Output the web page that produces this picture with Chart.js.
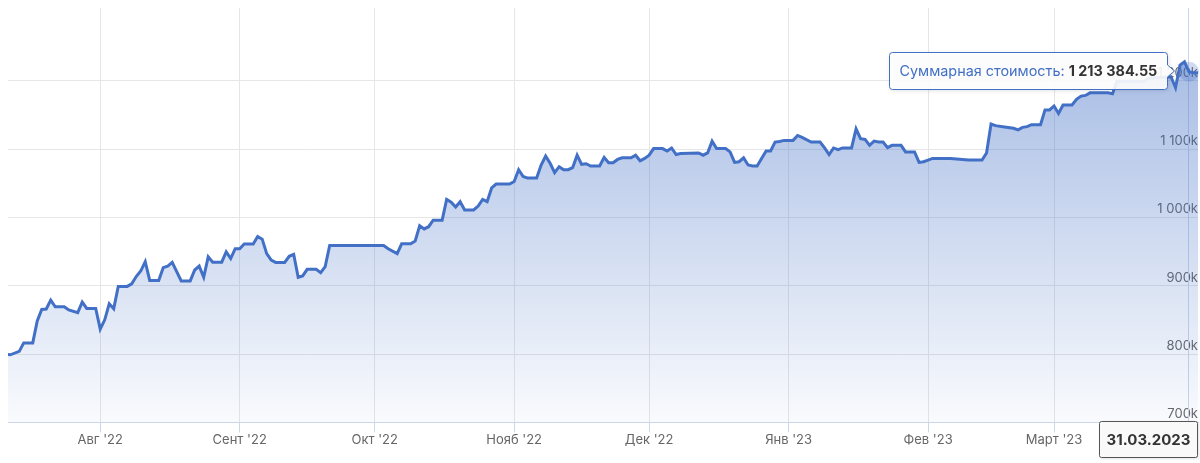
<!DOCTYPE html>
<html>
<head>
<meta charset="utf-8">
<script src="https://cdn.jsdelivr.net/npm/chart.js@4.4.1/dist/chart.umd.min.js"></script>
<style>
  html, body { margin: 0; padding: 0; background: #fff; }
  canvas { display: block; }
</style>
</head>
<body>
<canvas id="portfolio" width="1200" height="463"></canvas>
<script>
// days counted from 01.07.2022
const dayOffsets = [
  10, 11, 13, 14, 16, 17, 18, 19, 20, 21,
  23, 24, 26, 27, 28, 30, 31, 32, 33, 34,
  35, 37, 38, 39, 40, 41, 42, 44, 45, 46,
  47, 49, 51, 52, 53, 54, 55, 56, 58, 59,
  60, 61, 62, 63, 65, 66, 67, 68, 69, 70,
  72, 73, 74, 75, 76, 77, 79, 80, 81, 82,
  94, 95, 97, 98, 100, 101, 102, 103, 104, 105,
  107, 108, 109, 110, 111, 112, 114, 115, 116, 117,
  118, 119, 122, 123, 124, 125, 126, 128, 129, 130,
  131, 132, 133, 134, 135, 136, 137, 138, 139, 140,
  142, 143, 144, 145, 146, 147, 149, 150, 151, 152,
  153, 154, 156, 157, 158, 159, 160, 164, 165, 166,
  167, 168, 170, 171, 172, 173, 174, 175, 176, 177,
  178, 179, 180, 181, 182, 183, 185, 186, 187, 189,
  191, 192, 193, 194, 195, 196, 198, 199, 200, 201,
  202, 203, 204, 205, 206, 207, 209, 210, 212, 213,
  214, 215, 216, 220, 224, 227, 228, 229, 230, 232,
  234, 235, 236, 237, 238, 240, 241, 242, 243, 244,
  245, 247, 248, 249, 250, 251, 255, 256, 257, 263,
  264, 269, 270, 271, 272, 273, 274, 275
];

const portfolioValues = [
  800000, 799000, 804000, 816400, 816400, 848700, 865400, 866000, 879000, 869300,
  869300, 864600, 860700, 876100, 866900, 866900, 836600, 850200, 873600, 866400,
  899100, 899100, 902900, 913600, 921600, 935200, 907800, 907800, 926500, 928800,
  934200, 907200, 907200, 923100, 928800, 912500, 942400, 934600, 934600, 949600,
  939900, 954300, 954300, 961100, 961100, 972100, 968300, 947100, 937500, 934200,
  934200, 943200, 946100, 912500, 914400, 924100, 924100, 919300, 928000, 959100,
  959100, 954300, 947100, 961500, 961500, 965400, 987900, 983200, 986500, 996100,
  996100, 1026400, 1022500, 1015300, 1023100, 1011000, 1011000, 1016700, 1026400, 1023100,
  1043300, 1049000, 1049000, 1052800, 1070000, 1060000, 1057700, 1057700, 1076800, 1089800,
  1079300, 1065700, 1074400, 1070000, 1070000, 1072900, 1091200, 1077800, 1078700, 1075400,
  1075400, 1087900, 1080100, 1080100, 1085000, 1087300, 1087300, 1091200, 1083000, 1086500,
  1091200, 1100900, 1100900, 1097400, 1101800, 1092200, 1093700, 1094500, 1091200, 1094500,
  1111800, 1100900, 1100900, 1096000, 1080700, 1081600, 1087300, 1076800, 1075400, 1075400,
  1086500, 1097400, 1097400, 1110400, 1111400, 1112900, 1112900, 1120100, 1117200, 1110400,
  1110400, 1101800, 1092200, 1101800, 1099400, 1101800, 1101800, 1129700, 1115300, 1114300,
  1105600, 1111800, 1110400, 1110400, 1102300, 1105600, 1105600, 1096000, 1096000, 1080700,
  1081600, 1084000, 1086500, 1086500, 1084000, 1084000, 1094500, 1136900, 1134500, 1132600,
  1130600, 1128300, 1132000, 1133000, 1135900, 1135900, 1157500, 1157500, 1163300, 1152200,
  1164700, 1164700, 1172900, 1177700, 1178700, 1182500, 1182500, 1181000, 1199300, 1199300,
  1204000, 1206000, 1190000, 1223000, 1228000, 1213384.55, 1212000, 1212000
];

const monthDays = [31, 62, 92, 123, 153, 184, 215, 243];
const monthLabels = ["Авг '22", "Сент '22", "Окт '22", "Нояб '22", "Дек '22", "Янв '23", "Фев '23", "Март '23"];
const valueTicks = [700000, 800000, 900000, 1000000, 1100000, 1200000];
const seriesName = 'Суммарная стоимость';
const hoverDay = 273;

const startDate = Date.UTC(2022, 6, 1);
const lineColor = '#4270c6';
const fontFamily = 'Inter, "Noto Sans", sans-serif';
const tipFont = 14.4;

const groupDigits = s => s.replace(/\B(?=(\d{3})+(?!\d))/g, ' ');

const formatDate = day => {
    const d = new Date(startDate + day * 86400000);
    const pad = n => String(n).padStart(2, '0');
    return `${pad(d.getUTCDate())}.${pad(d.getUTCMonth() + 1)}.${d.getUTCFullYear()}`;
};

const points = dayOffsets.map((d, i) => ({ x: d, y: portfolioValues[i] }));
const hoverIndex = dayOffsets.indexOf(hoverDay);

Chart.defaults.font.family = fontFamily;

const hoverPlugin = {
    id: 'hoverPoint',
    beforeDatasetsDraw(chart) {
        const { ctx, chartArea } = chart;
        const pt = chart.getDatasetMeta(0).data[hoverIndex];
        ctx.save();
        ctx.strokeStyle = '#ccd6eb';
        ctx.lineWidth = 1;
        ctx.beginPath();
        ctx.moveTo(Math.round(pt.x) - 0.5, chartArea.top);
        ctx.lineTo(Math.round(pt.x) - 0.5, chartArea.bottom);
        ctx.stroke();
        ctx.restore();
    },
    afterDatasetsDraw(chart) {
        const { ctx, chartArea } = chart;
        const pt = chart.getDatasetMeta(0).data[hoverIndex];

        ctx.save();
        // halo
        ctx.fillStyle = 'rgba(66,112,198,0.25)';
        ctx.beginPath();
        ctx.arc(pt.x, pt.y, 10, 0, Math.PI * 2);
        ctx.fill();

        // tooltip
        const label = seriesName + ': ';
        const value = groupDigits(portfolioValues[hoverIndex].toFixed(2));
        ctx.font = `${tipFont}px ${fontFamily}`;
        const w1 = ctx.measureText(label).width;
        ctx.font = `bold ${tipFont}px ${fontFamily}`;
        const w2 = ctx.measureText(value).width;
        const boxW = Math.round(w1 + w2 + 20);
        const boxH = 37;
        const right = Math.round(pt.x) - 21.5;
        const left = right - boxW;
        const top = Math.round(pt.y) - 19.5;
        const cy = top + boxH / 2;

        ctx.shadowColor = 'rgba(0,0,0,0.15)';
        ctx.shadowBlur = 4;
        ctx.shadowOffsetX = 1;
        ctx.shadowOffsetY = 1;
        ctx.fillStyle = 'rgba(255,255,255,0.9)';
        ctx.strokeStyle = lineColor;
        ctx.lineWidth = 1;
        ctx.beginPath();
        ctx.moveTo(left + 3, top);
        ctx.lineTo(right - 3, top);
        ctx.arcTo(right, top, right, top + 3, 3);
        ctx.lineTo(right, cy - 6);
        ctx.lineTo(right + 7, cy);
        ctx.lineTo(right, cy + 6);
        ctx.lineTo(right, top + boxH - 3);
        ctx.arcTo(right, top + boxH, right - 3, top + boxH, 3);
        ctx.lineTo(left + 3, top + boxH);
        ctx.arcTo(left, top + boxH, left, top + boxH - 3, 3);
        ctx.lineTo(left, top + 3);
        ctx.arcTo(left, top, left + 3, top, 3);
        ctx.closePath();
        ctx.fill();
        ctx.shadowColor = 'transparent';
        ctx.stroke();

        ctx.textBaseline = 'middle';
        ctx.textAlign = 'left';
        ctx.font = `${tipFont}px ${fontFamily}`;
        ctx.fillStyle = lineColor;
        ctx.fillText(label, left + 10, cy + 0.5);
        ctx.font = `bold ${tipFont}px ${fontFamily}`;
        ctx.fillStyle = '#333333';
        ctx.fillText(value, left + 10 + w1, cy + 0.5);

        // date label on the x axis
        const dateText = formatDate(hoverDay);
        const dW = 98, dH = 36;
        let dLeft = Math.round(pt.x - dW / 2) + 0.5;
        if (dLeft + dW > chartArea.right - 0.5) dLeft = Math.round(chartArea.right) - dW - 0.5;
        const dTop = Math.round(chartArea.bottom) - 0.5;
        ctx.shadowColor = 'rgba(0,0,0,0.15)';
        ctx.shadowBlur = 3;
        ctx.shadowOffsetX = 1;
        ctx.shadowOffsetY = 1;
        ctx.fillStyle = '#f9f9f9';
        ctx.strokeStyle = '#555555';
        ctx.beginPath();
        ctx.roundRect(dLeft, dTop, dW, dH, 2);
        ctx.fill();
        ctx.shadowColor = 'transparent';
        ctx.stroke();
        ctx.font = `bold 15px ${fontFamily}`;
        ctx.fillStyle = '#333333';
        ctx.textAlign = 'center';
        ctx.fillText(dateText, dLeft + dW / 2, dTop + dH / 2 + 1);
        ctx.restore();
    }
};

new Chart(document.getElementById('portfolio'), {
    type: 'line',
    data: {
        datasets: [{
            label: seriesName,
            data: points,
            borderColor: lineColor,
            borderWidth: 3,
            tension: 0,
            pointRadius: 0,
            fill: 'start',
            clip: 0,
            backgroundColor: context => {
                const { ctx, chartArea } = context.chart;
                if (!chartArea) return 'rgba(66,112,198,0.2)';
                const g = ctx.createLinearGradient(0, chartArea.top, 0, chartArea.bottom);
                g.addColorStop(0, 'rgba(66,112,198,0.52)');
                g.addColorStop(1, 'rgba(66,112,198,0.03)');
                return g;
            }
        }]
    },
    options: {
        responsive: false,
        devicePixelRatio: 1,
        animation: false,
        layout: { padding: { left: 8, right: 2, top: 0, bottom: 15 } },
        plugins: {
            legend: { display: false },
            tooltip: { enabled: false }
        },
        scales: {
            x: {
                type: 'linear',
                min: 10.5,
                max: 275,
                afterBuildTicks: axis => { axis.ticks = monthDays.map(v => ({ value: v })); },
                ticks: {
                    autoSkip: false,
                    maxRotation: 0,
                    padding: 0,
                    color: '#666666',
                    font: { size: 13 },
                    callback: value => monthLabels[monthDays.indexOf(value)]
                },
                grid: {
                    color: '#e6e6e6',
                    tickColor: '#ccd6eb',
                    tickLength: 10
                },
                border: { color: '#ccd6eb' }
            },
            y: {
                position: 'right',
                min: 700000,
                max: 1307000,
                afterBuildTicks: axis => { axis.ticks = valueTicks.map(v => ({ value: v })); },
                ticks: {
                    mirror: true,
                    padding: 0,
                    labelOffset: -8,
                    color: '#666666',
                    font: { size: 13 },
                    callback: value => groupDigits(String(value / 1000)) + 'k'
                },
                grid: { color: '#e6e6e6', drawTicks: false },
                border: { display: false }
            }
        }
    },
    plugins: [hoverPlugin]
});
</script>
</body>
</html>
